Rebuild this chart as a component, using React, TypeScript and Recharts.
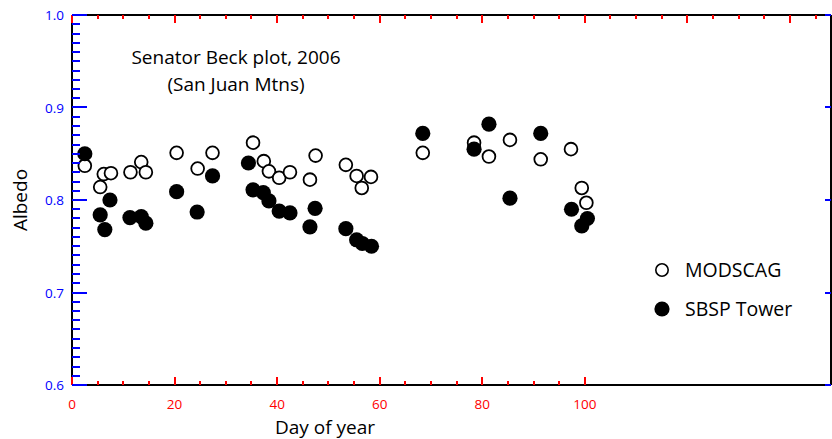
import { Legend, ReferenceLine, Scatter, ScatterChart, XAxis, YAxis } from "recharts";

const INK = "#000";
const FONT = "'Open Sans', sans-serif";
const PLOT_W = 759;
const PLOT_H = 370;

// MODSCAG (open circles)
const modscagDays = [
  2.5, 5.5, 6.2, 7.6, 11.4, 13.5, 14.4, 20.4, 24.5, 27.4, 35.3, 37.4, 38.4, 40.4, 42.5,
  46.4, 47.5, 53.4, 55.5, 56.5, 58.3, 68.4, 78.4, 81.3, 85.4, 91.4, 97.3, 99.4, 100.3,
];
const modscagAlbedo = [
  0.837, 0.814, 0.828, 0.829, 0.83, 0.841, 0.83, 0.851, 0.834, 0.851, 0.862, 0.842, 0.831, 0.824, 0.83,
  0.822, 0.848, 0.838, 0.826, 0.813, 0.825, 0.851, 0.862, 0.847, 0.865, 0.844, 0.855, 0.813, 0.797,
];

// SBSP tower (filled circles)
const towerDays = [
  2.5, 5.5, 6.4, 7.4, 11.3, 13.5, 14.4, 20.4, 24.4, 27.4, 34.4, 35.3, 37.3, 38.4, 40.4, 42.5,
  46.4, 47.4, 53.4, 55.5, 56.6, 58.4, 68.4, 78.4, 81.3, 85.4, 91.4, 97.4, 99.4, 100.5,
];
const towerAlbedo = [
  0.85, 0.784, 0.768, 0.8, 0.781, 0.782, 0.775, 0.809, 0.787, 0.826, 0.84, 0.811, 0.808, 0.799, 0.788, 0.786,
  0.771, 0.791, 0.769, 0.757, 0.753, 0.75, 0.872, 0.855, 0.882, 0.802, 0.872, 0.79, 0.772, 0.78,
];

const xLabels = [0, 20, 40, 60, 80, 100];
const xTicks = Array.from({ length: 30 }, (_, i) => i * 5);
const yTicks = Array.from({ length: 41 }, (_, i) => Math.round((0.6 + i * 0.01) * 100) / 100);

const modscag = modscagDays.map((day, i) => ({ day, albedo: modscagAlbedo[i] }));
const tower = towerDays.map((day, i) => ({ day, albedo: towerAlbedo[i] }));

const isMajorY = (v: number) => Math.abs(v * 10 - Math.round(v * 10)) < 1e-6;

// bottom ticks (to 100, labelled) and top-frame ticks (whole range), pointing inward
const XTick = (props: any) => {
  const { x, y, payload } = props;
  const v = payload.value;
  const len = v % 20 === 0 ? 8 : 4;
  const cx = Math.round(Number(x));
  const by = Number(y);
  return (
    <g>
      {v <= 100 && <rect x={cx - 1} y={by - len} width={2} height={len} fill="red" />}
      <rect x={cx - 1} y={by - PLOT_H} width={2} height={len} fill="red" />
      {xLabels.includes(v) && (
        <text x={Number(x)} y={by + 24} textAnchor="middle" fontSize={13.5} fontFamily={FONT} fill="red">
          {v}
        </text>
      )}
    </g>
  );
};

// left ticks (minor + major, labelled) and right-frame ticks (major only)
const YTick = (props: any) => {
  const { x, y, payload } = props;
  const v = payload.value;
  const major = isMajorY(v);
  const cy = Math.round(Number(y));
  const lx = Number(x);
  return (
    <g>
      <rect x={lx} y={cy - 1} width={major ? 15 : 8} height={2} fill="blue" />
      {major && <rect x={lx + PLOT_W - 6} y={cy - 1} width={6} height={2} fill="blue" />}
      {major && (
        <text x={lx - 8} y={Number(y) + 5} textAnchor="end" fontSize={13.5} fontFamily={FONT} fill="blue">
          {v.toFixed(1)}
        </text>
      )}
    </g>
  );
};

const OpenDot = (p: any) => <circle cx={p.cx} cy={p.cy} r={6.4} fill="#fff" stroke={INK} strokeWidth={1.8} />;
const FilledDot = (p: any) => <circle cx={p.cx} cy={p.cy} r={7.6} fill={INK} />;

const renderLegend = ({ payload }: any) => (
  <div style={{ fontFamily: FONT, fontSize: 19.5, color: INK }}>
    {(payload || []).map((entry: any) => (
      <div key={entry.value} style={{ display: "flex", alignItems: "center", height: 39 }}>
        <svg width={16} height={16} style={{ marginRight: 15 }}>
          {entry.value === "MODSCAG" ? (
            <circle cx={8} cy={8} r={6.2} fill="#fff" stroke={INK} strokeWidth={1.6} />
          ) : (
            <circle cx={8} cy={8} r={7.6} fill={INK} />
          )}
        </svg>
        <span>{entry.value}</span>
      </div>
    ))}
  </div>
);

export default function App() {
  return (
    <div style={{ position: "absolute", left: 0, top: 0, width: 832, height: 439, overflow: "hidden" }}>
      <ScatterChart width={832} height={439} margin={{ top: 15, right: 1, bottom: 53, left: 71 }}>
        <XAxis
          type="number"
          dataKey="day"
          domain={[0, 148]}
          ticks={xTicks}
          interval={0}
          height={1}
          tickSize={0}
          tickMargin={0}
          tick={XTick}
          axisLine={{ stroke: INK, strokeWidth: 2 }}
        />
        <YAxis
          type="number"
          dataKey="albedo"
          domain={[0.6, 1.0]}
          ticks={yTicks}
          interval={0}
          width={1}
          tickSize={0}
          tickMargin={0}
          tick={YTick}
          axisLine={{ stroke: INK, strokeWidth: 2 }}
        />
        <ReferenceLine y={1.0} stroke={INK} strokeWidth={2} ifOverflow="visible" />
        <ReferenceLine x={148} stroke={INK} strokeWidth={2} ifOverflow="visible" />
        <Scatter name="MODSCAG" data={modscag} shape={OpenDot} isAnimationActive={false} />
        <Scatter name="SBSP Tower" data={tower} shape={FilledDot} isAnimationActive={false} />
        <Legend
          layout="vertical"
          align="center"
          verticalAlign="middle"
          content={renderLegend}
          wrapperStyle={{ left: 654, top: 250, width: 170 }}
        />
      </ScatterChart>
      <svg width={832} height={439} style={{ position: "absolute", left: 0, top: 0, pointerEvents: "none" }}>
        <g fontFamily={FONT} fill={INK} fontSize={19} textAnchor="middle">
          <text x={236} y={64}>Senator Beck plot, 2006</text>
          <text x={236} y={91}>(San Juan Mtns)</text>
          <text x={325} y={434}>Day of year</text>
          <text x={27} y={200} transform="rotate(-90 27 200)">
            Albedo
          </text>
        </g>
      </svg>
    </div>
  );
}
